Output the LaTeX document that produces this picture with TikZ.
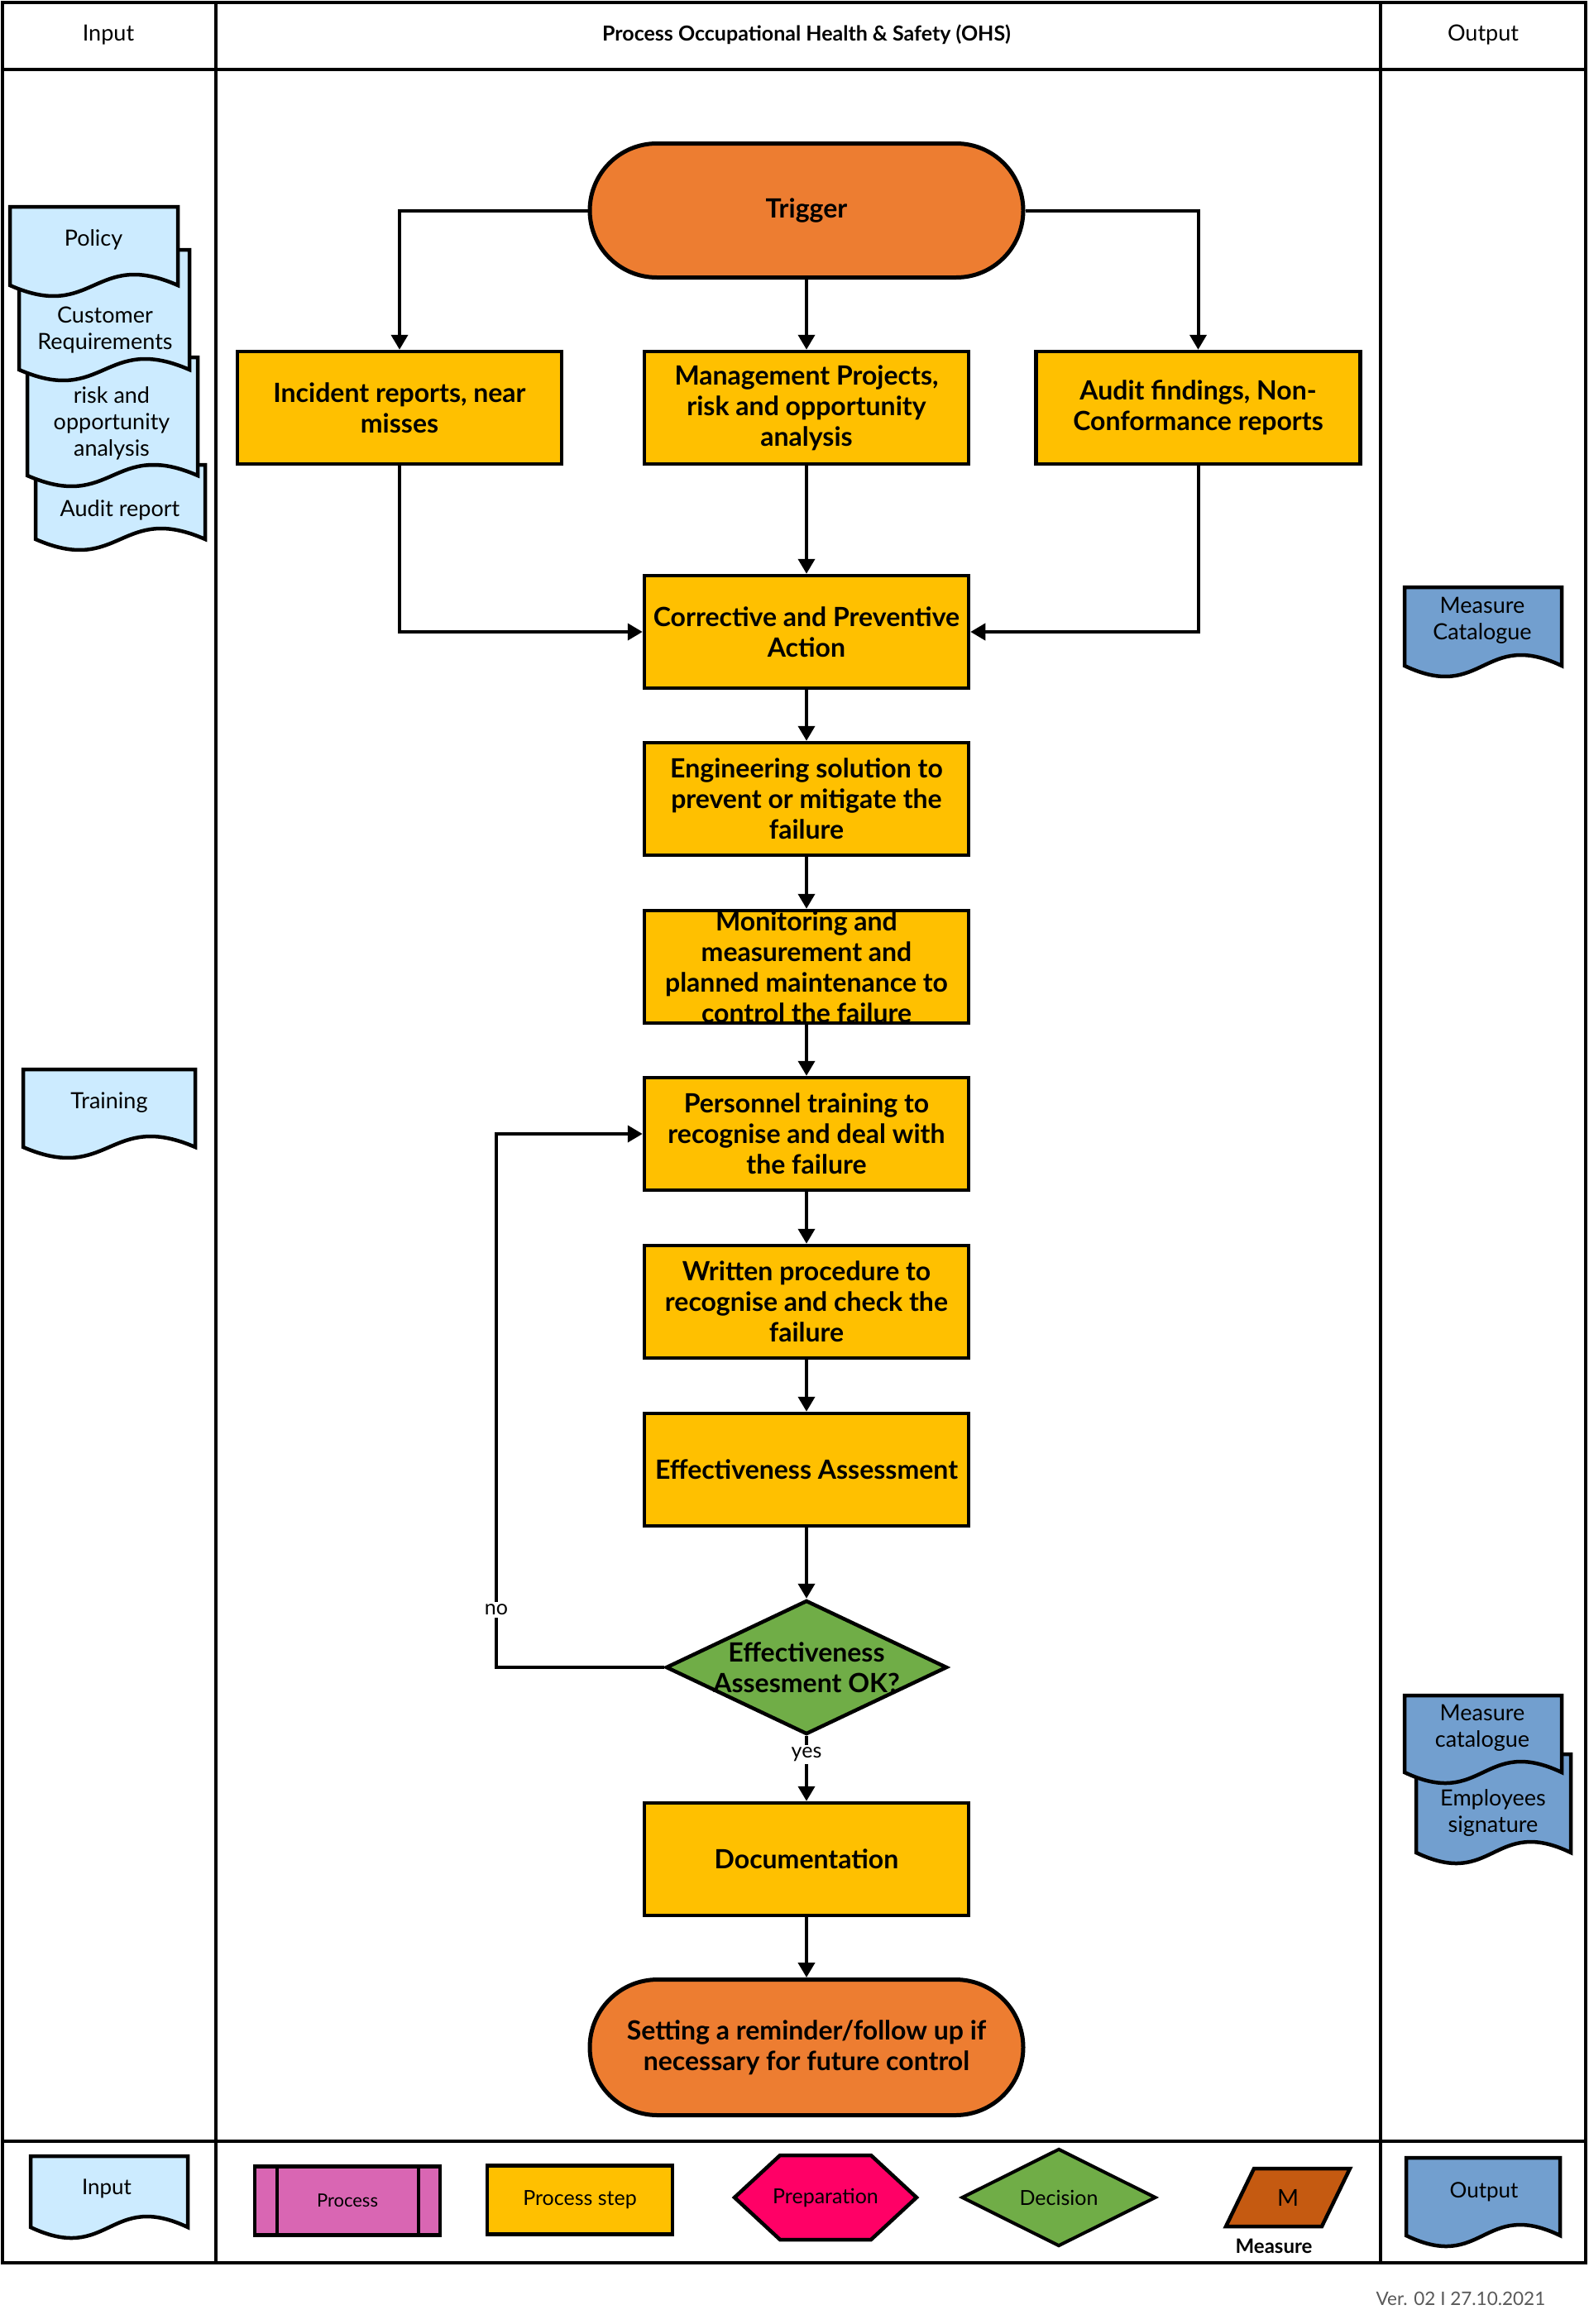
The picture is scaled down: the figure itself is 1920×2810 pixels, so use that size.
\documentclass[tikz,border=0pt]{standalone}
\usepackage{fontspec}
\setmainfont{Lato}
\usetikzlibrary{arrows.meta,shapes.geometric,shapes.misc,calc}

\definecolor{cInput}{HTML}{CCEBFF}
\definecolor{cOutput}{HTML}{729FCF}
\definecolor{cOrange}{HTML}{ED7D31}
\definecolor{cYellow}{HTML}{FFC000}
\definecolor{cGreen}{HTML}{70AD47}
\definecolor{cPink}{HTML}{D966B3}
\definecolor{cPrep}{HTML}{FF0066}
\definecolor{cMeasure}{HTML}{C55A11}
\definecolor{cGrey}{HTML}{595959}

\newcommand{\boxfont}{\bfseries\fontsize{32pt}{37pt}\selectfont}
\newcommand{\docfont}{\fontsize{27pt}{32pt}\selectfont}
\newcommand{\legfont}{\fontsize{25pt}{30pt}\selectfont}

% x, y (top), width, height (left side), fill colour
\newcommand{\docshape}[5]{%
  \filldraw[docline, fill=#5] (#1,#2) -- ({#1+#3},#2) -- ({#1+#3},{#2+#4})
    .. controls ({#1+#3/2},{#2+#4-45}) and ({#1+#3/2},{#2+#4+45}) .. (#1,{#2+#4}) -- cycle;}

\tikzset{
  docline/.style={draw=black, line width=4.5pt, line join=miter},
  doctext/.style={align=center, inner sep=0pt, font=\docfont},
  stepbox/.style={rectangle, draw, line width=4.5pt, fill=cYellow,
    minimum width=392pt, minimum height=136pt, inner sep=0pt, align=center, font=\boxfont},
  term/.style={rounded rectangle, draw, line width=5pt, fill=cOrange,
    minimum width=524pt, minimum height=162pt, inner sep=0pt, align=center, font=\boxfont},
  decision/.style={diamond, draw, line width=4.5pt, fill=cGreen,
    minimum width=340pt, minimum height=162pt, inner sep=0pt},
  conn/.style={line width=4pt, -{Triangle[length=18pt,width=20pt]}},
  lbl/.style={fill=white, inner sep=3pt, font=\fontsize{25pt}{28pt}\selectfont},
  frame/.style={line width=4.5pt},
  hdr/.style={inner sep=0pt, font=\fontsize{27pt}{30pt}\selectfont},
  legtext/.style={inner sep=0pt, align=center, font=\legfont},
}

\begin{document}
\begin{tikzpicture}[x=1pt,y=-1pt]
\useasboundingbox (0,0) rectangle (1920,2810);
\fill[white] (0,0) rectangle (1920,2810);

% ---------- frame ----------
\draw[frame] (3,3) rectangle (1917,2736);
\draw[frame] (3,84) -- (1917,84);
\draw[frame] (3,2589) -- (1917,2589);
\draw[frame] (261,3) -- (261,2736);
\draw[frame] (1669,3) -- (1669,2736);

\node[hdr] (hdIn) at (131,42) {Input};
\node[hdr, font=\bfseries\fontsize{25pt}{28pt}\selectfont] (hdProc) at (975,42) {Process Occupational Health \& Safety (OHS)};
\node[hdr] (hdOut) at (1793,42) {Output};

% ---------- input documents ----------
\docshape{43}{562}{205}{90}{cInput}
\node[doctext] (inAudit) at (145,617) {Audit report};
\docshape{33}{432}{206}{143}{cInput}
\node[doctext] (inRisk) at (135,512) {risk and\\opportunity\\analysis};
\docshape{23}{302}{206}{145}{cInput}
\node[doctext] (inCust) at (127,399) {Customer\\Requirements};
\docshape{12}{250}{203}{95}{cInput}
\node[doctext] (inPolicy) at (113,290) {Policy};

\docshape{28}{1293}{208}{94}{cInput}
\node[doctext] (inTrain) at (132,1333) {Training};

% ---------- output documents ----------
\docshape{1698}{710}{190}{95}{cOutput}
\node[doctext] (outCat) at (1792,750) {Measure\\Catalogue};

\docshape{1712}{2121}{187}{119}{cOutput}
\node[doctext] (outSig) at (1805,2192) {Employees\\signature};
\docshape{1698}{2050}{190}{93}{cOutput}
\node[doctext] (outCat2) at (1792,2089) {Measure\\catalogue};

% ---------- process ----------
\node[term] (trig) at (975,254.5) {Trigger};
\node[stepbox] (inc) at (483,493) {Incident reports, near\\misses};
\node[stepbox] (mgmt) at (975,493) {Management Projects,\\risk and opportunity\\analysis};
\node[stepbox] (aud) at (1448.5,493) {Audit findings, Non-\\Conformance reports};
\node[stepbox] (cpa) at (975,764) {Corrective and Preventive\\Action};
\node[stepbox] (eng) at (975,966) {Engineering solution to\\prevent or mitigate the\\failure};
\node[stepbox] (mon) at (975,1169) {Monitoring and\\measurement and\\planned maintenance to\\control the failure};
\node[stepbox] (pers) at (975,1371) {Personnel training to\\recognise and deal with\\the failure};
\node[stepbox] (writ) at (975,1574) {Written procedure to\\recognise and check the\\failure};
\node[stepbox] (eff) at (975,1777) {Effectiveness Assessment};
\node[decision, label={[align=center, inner sep=0pt, font=\boxfont]center:Effectiveness\\Assesment OK?}] (dec) at (975,2016) {};
\node[stepbox] (docu) at (975,2248) {Documentation};
\node[term, minimum height=164pt] (rem) at (975,2475.5) {Setting a reminder/follow up if\\necessary for future control};

\coordinate (loopA) at (600,2016);
\coordinate (loopB) at (600,1371);

\draw[conn] (trig.west) -| (inc.north);
\draw[conn] (trig.east) -| (aud.north);
\draw[conn] (trig.south) -- (mgmt.north);
\draw[conn] (inc.south) |- (cpa.west);
\draw[conn] (aud.south) |- (cpa.east);
\draw[conn] (mgmt.south) -- (cpa.north);
\draw[conn] (cpa.south) -- (eng.north);
\draw[conn] (eng.south) -- (mon.north);
\draw[conn] (mon.south) -- (pers.north);
\draw[conn] (pers.south) -- (writ.north);
\draw[conn] (writ.south) -- (eff.north);
\draw[conn] (eff.south) -- (dec.north);
\draw[conn] (dec.south) -- node[lbl, pos=0.28] (yesl) {yes} (docu.north);
\draw[conn] (docu.south) -- (rem.north);
\draw[conn] (dec.west) -- (loopA) -- node[lbl, pos=0.108] (nol) {no} (loopB) -- (pers.west);

% ---------- legend ----------
\docshape{37}{2607}{190}{86}{cInput}
\node[legtext, font=\fontsize{26pt}{30pt}\selectfont] (legIn) at (129,2646) {Input};

\node[rectangle, draw, line width=4.5pt, fill=cPink, minimum width=224pt, minimum height=83pt,
  inner sep=0pt, font=\fontsize{22pt}{26pt}\selectfont] (legProc) at (420,2661) {Process};
\draw[line width=4pt] ([xshift=29pt]legProc.north west) -- ([xshift=29pt]legProc.south west);
\draw[line width=4pt] ([xshift=-28pt]legProc.north east) -- ([xshift=-28pt]legProc.south east);

\node[rectangle, draw, line width=4.5pt, fill=cYellow, minimum width=224pt, minimum height=83pt,
  inner sep=0pt, font=\legfont] (legStep) at (701,2660) {Process step};

\filldraw[line width=4.5pt, fill=cPrep] (888,2657) -- (943,2606) -- (1053,2606) -- (1108,2657)
  -- (1053,2708) -- (943,2708) -- cycle;
\node[legtext] (legPrep) at (998,2657) {Preparation};

\node[diamond, draw, line width=4pt, fill=cGreen, minimum width=235pt, minimum height=118pt,
  inner sep=0pt, font=\legfont] (legDec) at (1280,2657) {Decision};

\filldraw[line width=4.5pt, fill=cMeasure] (1516,2622) -- (1632,2622) -- (1598,2692) -- (1482,2692) -- cycle;
\node[legtext, font=\fontsize{28pt}{32pt}\selectfont] (legM) at (1557,2657) {M};
\node[legtext, font=\bfseries\fontsize{24pt}{28pt}\selectfont] (legMeas) at (1540,2716) {Measure};

\docshape{1700}{2609}{186}{94}{cOutput}
\node[legtext, font=\fontsize{26pt}{30pt}\selectfont] (legOut) at (1794,2650) {Output};

\node[inner sep=0pt, text=cGrey, font=\fontsize{22.5pt}{26pt}\selectfont] (ver) at (1766,2779) {Ver. 02 I 27.10.2021};
\end{tikzpicture}
\end{document}
